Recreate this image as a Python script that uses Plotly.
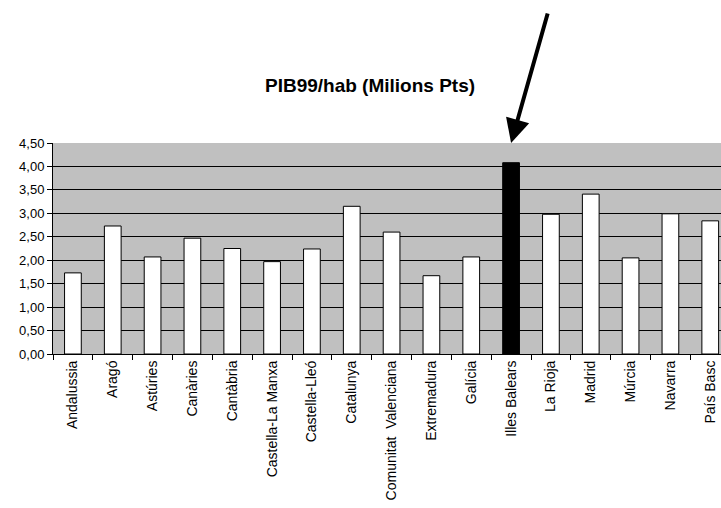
import plotly.graph_objects as go

regions = ["Andalussia", "Aragó", "Astúries", "Canàries", "Cantàbria",
           "Castella-La Manxa", "Castella-Lleó", "Catalunya",
           "Comunitat  Valenciana", "Extremadura", "Galícia", "Illes Balears",
           "La Rioja", "Madrid", "Múrcia", "Navarra", "País Basc"]
pib_per_hab = [1.73, 2.73, 2.07, 2.47, 2.25, 1.97, 2.24, 3.15, 2.60, 1.67,
               2.07, 4.08, 2.98, 3.41, 2.05, 2.99, 2.84]
highlight = "Illes Balears"
y_ticks = [0, 0.5, 1, 1.5, 2, 2.5, 3, 3.5, 4, 4.5]
title_text = "PIB99/hab (Milions Pts)"

colors = ["black" if r == highlight else "white" for r in regions]

fig = go.Figure()
fig.add_trace(go.Bar(
    x=regions, y=pib_per_hab,
    marker=dict(color=colors, line=dict(color="black", width=1)),
    width=0.42,
))

fig.update_layout(
    width=721, height=508,
    margin=dict(l=53, r=0, t=143, b=154, autoexpand=False),
    paper_bgcolor="white",
    plot_bgcolor="#c0c0c0",
    separators=",.",
    showlegend=False,
    font=dict(family="Liberation Sans, Arial, sans-serif", color="black"),
    title=dict(text="<b>" + title_text + "</b>", x=370 / 721, xref="container",
               xanchor="center",
               y=1 - 85 / 508, yref="container", yanchor="middle",
               font=dict(size=19, color="black")),
    xaxis=dict(
        type="category",
        range=[-0.5, 16.27],
        automargin=False,
        showline=True, linecolor="black", linewidth=1,
        ticks="outside", tickson="boundaries", ticklen=5, tickcolor="black",
        tickangle=-90, tickfont=dict(size=14),
        showgrid=False,
    ),
    yaxis=dict(
        range=[0, 4.5],
        automargin=False,
        tickvals=y_ticks,
        tickformat=".2f",
        showline=True, linecolor="black", linewidth=1,
        ticks="outside", ticklen=5, tickcolor="black",
        tickfont=dict(size=13),
        showgrid=True, gridcolor="black", gridwidth=1,
        zeroline=False,
    ),
)

fig.add_annotation(
    x=highlight, y=4.5, xref="x", yref="y",
    ax=37, ay=-131, axref="pixel", ayref="pixel",
    showarrow=True, arrowhead=2, arrowsize=1.2, arrowwidth=4,
    arrowcolor="black", text="", standoff=0,
)

fig.write_html(
    "out.html",
    config={"displayModeBar": False},
    post_script="document.body.style.margin='0';"
                "document.body.style.overflow='hidden';"
                "document.documentElement.style.overflow='hidden';",
)
